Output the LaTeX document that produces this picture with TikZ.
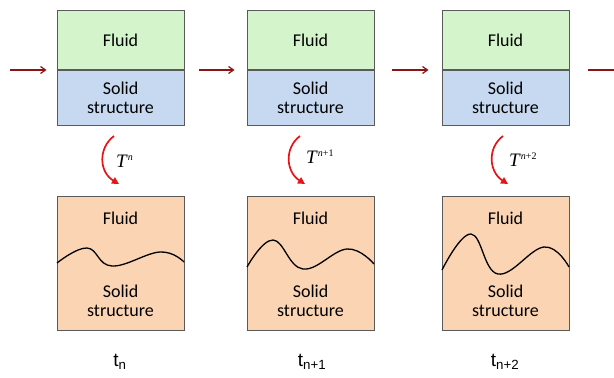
\documentclass[tikz,border=0pt]{standalone}
\usepackage{fontspec}
\setmainfont{Carlito}
\newfontfamily\tnr{Liberation Serif}
\newfontfamily\arl{Liberation Sans}
\usetikzlibrary{arrows.meta}
\definecolor{fluidgreen}{RGB}{212,245,204}
\definecolor{solidblue}{RGB}{198,217,240}
\definecolor{deform}{RGB}{251,212,180}
\definecolor{edgegray}{RGB}{90,90,90}
\definecolor{darkred}{RGB}{140,20,20}
\definecolor{brightred}{RGB}{230,20,20}
\tikzset{
  boxbase/.style={draw=edgegray, line width=0.9pt, minimum width=127pt, inner sep=0pt, font=\fontsize{18}{21}\selectfont, align=center},
  fluidbox/.style={boxbase, fill=fluidgreen, minimum height=59pt, text depth=-3pt},
  solidbox/.style={boxbase, fill=solidblue, minimum height=55pt},
  defbox/.style={boxbase, fill=deform, minimum height=134pt},
  stepflow/.style={draw=darkred, line width=1.2pt, -{Straight Barb[length=5pt,width=7pt]}},
  maparrow/.style={draw=brightred, line width=1.7pt, -{Triangle[length=7pt,width=7pt]}},
  maplabel/.style={anchor=west, inner sep=0pt, font=\tnr\fontsize{19}{20}\selectfont},
  timelabel/.style={font=\arl\fontsize{19}{21}\selectfont},
  wave/.style={line width=1.3pt, black},
  boxtext/.style={font=\fontsize{18}{21}\selectfont, align=center, inner sep=0pt}
}
\begin{document}
\begin{tikzpicture}[x=1pt,y=-1pt]
\useasboundingbox (0,0) rectangle (614,378);
% top boxes
\foreach \i/\xc in {1/120.5, 2/310.5, 3/505.5} {
  \node[fluidbox, anchor=south] (f\i) at (\xc,70) {Fluid};
  \node[solidbox, anchor=north] (s\i) at (\xc,70) {Solid\\[-2pt]structure};
  \node[defbox, anchor=north] (d\i) at (\xc,196) {};
  \node[boxtext] (df\i) at (\xc,218) {Fluid};
  \node[boxtext] (ds\i) at (\xc,301) {Solid\\[-2pt]structure};
}
% horizontal flow arrows
\coordinate (in) at (10,70);
\coordinate (out) at (614,70);
\draw[stepflow, shorten >=10pt] (in) -- (f1.south west);
\draw[stepflow, shorten <=15pt, shorten >=12pt] (f1.south east) -- (f2.south west);
\draw[stepflow, shorten <=18pt, shorten >=13pt] (f2.south east) -- (f3.south west);
\draw[draw=darkred, line width=1.2pt, shorten <=19pt] (f3.south east) -- (out);
% mapping arrows
\coordinate (a1) at (114,136); \coordinate (b1) at (119,184);
\coordinate (a2) at (300,136); \coordinate (b2) at (305,184);
\coordinate (a3) at (503,136); \coordinate (b3) at (508,184);
\draw[maparrow] (a1) .. controls (98,148) and (99,172) .. (b1);
\draw[maparrow] (a2) .. controls (284,148) and (286,172) .. (b2);
\draw[maparrow] (a3) .. controls (487,148) and (489,172) .. (b3);
\node[maplabel] (m1) at (116,161) {\textit{T}\raisebox{7pt}{\fontsize{10}{10}\selectfont\textit{n}}};
\node[maplabel] (m2) at (306,157) {\textit{T}\raisebox{7pt}{\fontsize{10}{10}\selectfont\textit{n}+1}};
\node[maplabel] (m3) at (509,160) {\textit{T}\raisebox{7pt}{\fontsize{10}{10}\selectfont\textit{n}+2}};
% interfaces
\draw[wave] plot[smooth, tension=0.7] coordinates {(57,263) (87,248) (112,266) (160,252) (184,262)};
\draw[wave] plot[smooth, tension=0.7] coordinates {(247,267) (273,240) (303,269) (347,249) (374,264)};
\draw[wave] plot[smooth, tension=0.7] coordinates {(442,270) (471,234) (498,274) (544,247) (569,267)};
% time labels
\node[timelabel] (t1) at (120,362) {t\textsubscript{n}};
\node[timelabel] (t2) at (312,362) {t\textsubscript{n+1}};
\node[timelabel] (t3) at (505,362) {t\textsubscript{n+2}};
\end{tikzpicture}
\end{document}
